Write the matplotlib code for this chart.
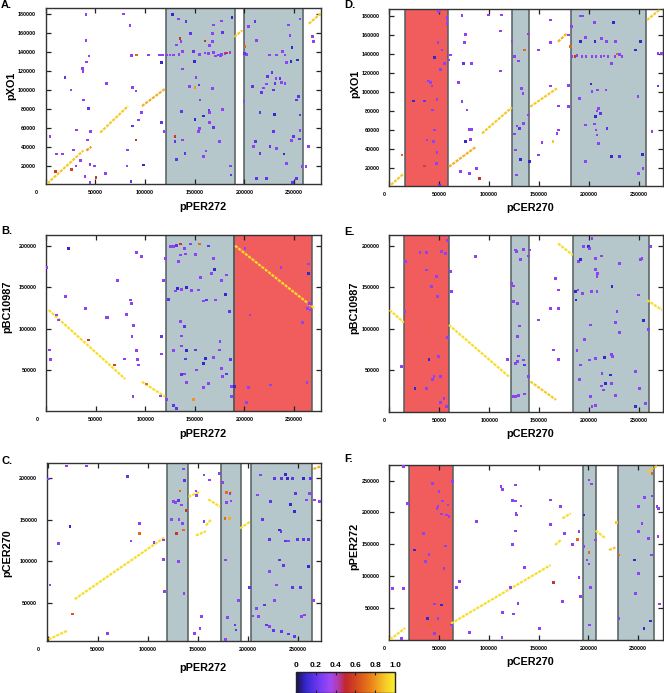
import numpy as np
import matplotlib
matplotlib.use('Agg')
import matplotlib.pyplot as plt
import matplotlib.transforms as mtransforms
from matplotlib.colors import LinearSegmentedColormap, Normalize
from matplotlib.cm import ScalarMappable

plt.rcParams['font.family'] = ['Liberation Sans', 'DejaVu Sans']
plt.rcParams['font.weight'] = 'bold'

# palette like the gnuplot one in the figure (navy -> violet -> red -> yellow)
cmap = LinearSegmentedColormap.from_list('dotpal', [
    (0.00, '#1a1248'), (0.10, '#3628d0'), (0.25, '#7a3cf6'), (0.35, '#a248f0'),
    (0.43, '#b23aa8'), (0.50, '#c2262c'), (0.60, '#d24420'), (0.75, '#ea7e18'),
    (0.90, '#f6c828'), (1.00, '#faf02a')])
norm = Normalize(0, 1)

GREY = '#b6c7cc'
RED = '#f15c5c'
EDGE = '#525c5e'

# ---------------- data ----------------
# shaded regions: (start, end, kind)
a_spans = [(121000, 190700, 'g'), (199200, 259000, 'g')]
b_spans = [(121000, 190000, 'g'), (190000, 268400, 'r')]
c_spans = [(118800, 140400, 'g'), (173000, 192700, 'g'), (203000, 264200, 'g')]
d_spans = [(16300, 58700, 'r'), (123300, 140000, 'g'), (181700, 257300, 'g')]
e_spans = [(14700, 59700, 'r'), (122000, 140300, 'g'), (184300, 260000, 'g')]
f_spans = [(19700, 64300, 'r'), (194700, 207300, 'g'), (229700, 266300, 'g')]

# high identity diagonal runs: (x0, y0, x1, y1, identity)
a_segs = [(2000, 1400, 38000, 36000, .9), (41000, 36000, 46000, 40000, .8),
          (55000, 55000, 83000, 83000, .9), (97000, 83000, 120000, 101000, .85),
          (190000, 156000, 198000, 163000, .9), (265000, 170000, 277000, 181000, .9)]
b_segs = [(2700, 122400, 79900, 39100, .95), (96600, 35900, 120100, 17800, .95),
          (190600, 200000, 271000, 124000, .95)]
c_segs = [(1000, 7000, 19000, 17000, .95), (27000, 55000, 117000, 129000, .95),
          (140500, 177300, 152100, 183300, .95), (148000, 131000, 158000, 136000, .95),
          (158000, 143000, 163000, 150000, .95), (160400, 174100, 172100, 165400, .95),
          (192100, 139500, 202100, 147500, .95), (265300, 210400, 272700, 213600, .85)]
d_segs = [(2000, 2000, 15000, 14000, .9), (60000, 21000, 87000, 42000, .85),
          (93000, 56100, 123000, 83500, .9), (141300, 84200, 168000, 103500, .9),
          (169000, 152600, 178000, 161400, .85), (258000, 175400, 271300, 186700, .9)]
e_segs = [(300, 122600, 14700, 107400, .95), (59700, 104600, 119700, 42400, .95),
          (141300, 36400, 167000, 14300, .9), (169000, 202800, 183700, 188800, .95),
          (258000, 134600, 273000, 122600, .95)]
f_segs = [(1000, 0, 16000, 18000, .95), (62000, 25000, 162000, 117000, .95),
          (166700, 148700, 172300, 156600, .95), (174000, 190700, 182300, 198600, .95),
          (207300, 171300, 217300, 159200, .95), (220700, 140800, 227300, 145000, .9),
          (259000, 264200, 269000, 273100, .9)]

# scattered hits: (x, y, identity)
a_pts = [(4400, 50600, .3), (40600, 179500, .3), (78200, 180200, .3), (84900, 167900, .3),
         (40600, 152000, .3), (43600, 135800, .3), (41300, 129500, .3), (37200, 122800, .3),
         (37600, 119300, .3), (19500, 113000, .2), (61400, 107000, .3), (25500, 100000, .3),
         (87600, 102800, .3), (91000, 98900, .3), (91700, 136900, .7), (103400, 136900, .3),
         (86600, 136600, .3), (116800, 129200, .1), (37900, 89400, .3), (43300, 80200, .2),
         (87200, 61900, .2), (93300, 68200, .3), (96600, 76000, .3), (116800, 65400, .2),
         (119100, 55900, .3), (31200, 57700, .3), (45300, 55900, .3), (41900, 47100, .3),
         (90900, 47100, .55), (27900, 36500, .3), (82200, 36500, .3), (44600, 21400, .3),
         (49000, 19600, .3), (81900, 19600, .3), (98300, 20700, .1), (11100, 32300, .3),
         (17100, 32300, .3), (30500, 19600, .3), (39600, 8400, .3), (50700, 7700, .55),
         (60100, 11500, .3), (85900, 3100, .2), (44600, 2000, .3), (35200, 25600, .3),
         (9700, 13700, .55), (26200, 16100, .6),
         (127900, 179900, .1), (133600, 175000, .3), (141300, 172100, .2), (131900, 147500, .3),
         (136200, 151000, .3), (135200, 154500, .55), (137900, 140400, .3), (114400, 136900, .3),
         (117800, 136900, .3), (122000, 136900, .3), (125300, 136900, .3), (128700, 136900, .3),
         (134200, 137500, .3), (155000, 137500, .3), (160400, 139000, .3), (163800, 138300, .3),
         (169000, 139500, .3), (173800, 136900, .3), (177200, 137500, .3), (180600, 138300, .3),
         (182300, 139000, .55), (185600, 140000, .3), (171000, 136000, .3), (176000, 136200, .3),
         (146000, 159800, .2), (148700, 140400, .2), (160400, 151700, .55), (164800, 146800, .3),
         (177200, 172800, .3), (168900, 168600, .3), (167600, 159800, .3), (177700, 160800, .2),
         (187600, 176700, .1), (168200, 151000, .3), (151300, 113000, .3), (150400, 102800, .8),
         (137900, 122100, .3), (144600, 103500, .3), (154400, 105200, .2), (149700, 129900, .1),
         (167600, 101700, .3), (136900, 77000, .2), (155400, 89400, .3), (158700, 72500, .1),
         (164400, 78800, .2), (164800, 65400, .3), (168900, 60500, .2), (177700, 79600, .3),
         (164800, 76000, .3), (155000, 59400, .3), (153600, 55900, .3), (150400, 68900, .1),
         (130200, 50600, .55), (130200, 45400, .2), (137900, 47100, .3), (140300, 33000, .2),
         (131900, 26700, .2), (158700, 29500, .3), (161400, 35500, .3), (175200, 45400, .3),
         (185900, 19600, .3), (186600, 10100, .2),
         (204000, 166800, .3), (202300, 137600, .3), (200000, 138700, .2), (212400, 152000, .3),
         (210700, 172100, .2), (200700, 146000, .7), (208100, 104000, .2), (199700, 88100, .3),
         (219100, 102200, .3), (217400, 97000, .2), (223500, 114200, .2), (227800, 118400, .2),
         (225200, 136900, .3), (232600, 136900, .3), (238600, 140400, .3), (241000, 136900, .3),
         (242600, 129200, .3), (247000, 129900, .1), (253700, 131700, .1), (248000, 144900, .1),
         (245900, 157300, .3), (244600, 168600, .3), (256000, 175000, .3), (231900, 112300, .3),
         (235900, 112300, .2), (237600, 107700, .3), (230900, 107000, .2), (241000, 107000, .3),
         (222500, 106300, .3), (229300, 100000, .2), (254400, 93000, .2), (252800, 89400, .2),
         (215800, 76300, .2), (230200, 74200, .1), (256000, 73500, .2), (256000, 57000, .3),
         (211400, 45400, .2), (209100, 40100, .3), (225800, 40100, .2), (232600, 38300, .3),
         (240000, 32300, .1), (247700, 46400, .3), (255400, 48200, .2), (249300, 50600, .2),
         (229300, 55900, .2), (215800, 33000, .2), (242600, 22500, .3), (212400, 6600, .2),
         (222500, 6600, .2), (252800, 6600, .2), (248600, 2400, .2), (258000, 18900, .3),
         (262000, 18900, .3), (264400, 40100, .3), (269500, 151000, .3), (268800, 156300, .3)]

b_pts = [(1000, 173400, .3), (22800, 196800, .1), (19500, 138500, .3), (39600, 124400, .3),
         (3700, 74100, .3), (4400, 62900, .3), (10400, 116300, .3), (12800, 110300, .3),
         (60700, 113500, .3), (62500, 113000, .3), (71800, 157800, .3), (84900, 134400, .3),
         (85900, 130400, .3), (81500, 117100, .3), (88300, 103500, .3), (86600, 90200, .3),
         (78900, 63300, .3), (91000, 73300, .3), (92600, 62900, .3), (93300, 56000, .3),
         (91000, 191500, .3), (96600, 186700, .3), (101000, 33100, .7), (116800, 90200, .2),
         (116800, 69300, .3), (118500, 157800, .3), (120100, 184700, .3), (87600, 17800, .3),
         (115100, 18600, .3), (43000, 86200, .55), (69000, 56000, .6),
         (125200, 198800, .3), (128500, 198800, .3), (131200, 200600, .2), (135200, 202000, .55),
         (139300, 196800, .3), (145300, 202000, .3), (154700, 202000, .7), (163800, 199600, .2),
         (123500, 135200, .2), (130200, 145300, .3), (132500, 148500, .1), (136900, 147300, .3),
         (142000, 149700, .1), (133600, 180700, .3), (135200, 188700, .3), (140300, 189900, .3),
         (150400, 189500, .3), (155400, 161400, .3), (153700, 146500, .3), (147000, 145700, .3),
         (158700, 133200, .3), (162100, 134400, .2), (170500, 134400, .3), (167100, 166600, .3),
         (169600, 171400, .1), (168900, 184700, .3), (177200, 157800, .3), (181600, 164600, .3),
         (180600, 141300, .1), (184900, 120400, .2), (185600, 62900, .2), (187300, 17800, .3),
         (186600, 29900, .3), (128500, 73300, .3), (141300, 73300, .1), (150400, 74100, .2),
         (135200, 108300, .3), (139300, 102300, .2), (136200, 91000, .3), (136900, 78900, .3),
         (140300, 63300, .2), (158700, 58000, .1), (160400, 64100, .1), (168900, 64900, .3),
         (174900, 74100, .3), (175500, 84200, .3), (177200, 52000, .3), (182300, 45200, .2),
         (178200, 42000, .3), (163800, 33900, .3), (158700, 28700, .3), (152000, 50000, .3),
         (136900, 44800, .2), (139600, 45200, .3), (141300, 34700, .3), (128500, 7000, .2),
         (131900, 3800, .2), (148700, 14600, .8), (121800, 14600, .3),
         (200700, 196800, .3), (236900, 173800, .3), (264400, 177900, .3), (264400, 166600, .1),
         (265400, 130400, .3), (263400, 124400, .3), (266700, 122400, .3), (205700, 116300, .3),
         (258400, 107100, .3), (204000, 29100, .3), (226500, 31900, .3), (263100, 34700, .3),
         (202300, 11000, .3), (189900, 29900, .1)]

c_pts = [(19000, 214000, .3), (39000, 214000, .3), (79900, 201200, .2), (22300, 141500, .1),
         (10700, 121600, .3), (2300, 71900, .3), (500, 198400, .3), (91600, 145500, .3),
         (83200, 124400, .3), (106200, 122800, .3), (115500, 125600, .3), (115500, 102500, .3),
         (116500, 63900, .3), (59900, 14200, .3), (91600, 133600, .7), (25000, 37300, .65),
         (148100, 184100, .3), (148800, 178500, .3), (156100, 203200, .3), (161400, 197300, .3),
         (171400, 205200, .3), (156100, 147500, .3), (152100, 20200, .3), (153800, 34100, .3),
         (146400, 14200, .3), (132200, 184100, .7), (135500, 137500, .7), (128800, 133600, .55),
         (138200, 160600, .55), (178800, 182100, .7), (183000, 182100, .85), (177100, 151500, .7),
         (181400, 151500, .85),
         (125500, 171400, .3), (128000, 170500, .3), (130500, 172600, .2), (133800, 167400, .3),
         (135500, 210400, .3), (136500, 196800, .2), (123800, 150300, .3), (131200, 150300, .3),
         (134800, 145500, .3), (130500, 99700, .3), (136200, 61900, .3),
         (174800, 194400, .3), (182100, 181300, .3), (178800, 170200, .3), (183100, 172200, .3),
         (177800, 101700, .3), (179500, 33300, .3), (187100, 24100, .2), (188100, 18200, .2),
         (190400, 53200, .3), (177800, 7000, .3),
         (212200, 203200, .3), (226700, 198800, .2), (233400, 198800, .2), (239100, 198800, .1),
         (244100, 198800, .2), (255800, 198800, .1), (262400, 198800, .2), (237400, 203600, .1),
         (247400, 181300, .2), (209500, 179300, .3), (222100, 171400, .2), (242800, 168200, .1),
         (246700, 159400, .1), (258400, 173400, .3), (261700, 181300, .3), (214500, 150300, .2),
         (221100, 126400, .2), (231100, 137500, .1), (233000, 135500, .2), (237400, 124400, .2),
         (240800, 124400, .3), (249100, 126400, .2), (255800, 126400, .2), (260800, 126400, .2),
         (260100, 93800, .1), (221400, 87800, .3), (231100, 101700, .2), (235800, 95000, .2),
         (244800, 68700, .2), (252100, 68700, .2), (201800, 68700, .2), (228400, 71900, .3),
         (226700, 53200, .3), (216800, 48000, .2), (208500, 44000, .3), (205100, 34900, .3),
         (210200, 34100, .3), (218500, 24100, .2), (221800, 22100, .3), (225100, 17300, .2),
         (233500, 16100, .2), (246700, 10200, .2), (240100, 13400, .2), (253500, 34100, .3),
         (256800, 36100, .3), (265200, 53200, .3), (271400, 171400, .3), (266400, 173400, .3)]

d_pts = [(13000, 33300, .7), (49700, 184200, .3), (58000, 177200, .3), (58000, 171900, .3),
         (45700, 135800, .1), (49000, 151600, .3), (53000, 143900, .3), (51300, 123500, .3),
         (55700, 129800, .3), (39700, 111200, .3), (41300, 109500, .3), (43000, 106000, .3),
         (24700, 90200, .1), (35700, 90200, .2), (48000, 91900, .3), (43700, 80700, .3),
         (45300, 59600, .3), (38000, 49100, .3), (44700, 47400, .3), (48000, 35800, .3),
         (47300, 24600, .3), (35700, 21800, .6), (50300, 1800, .2), (58000, 178200, .3),
         (61300, 138600, .3), (59700, 133300, .3), (73000, 180000, .3), (76300, 160400, .3),
         (75700, 151600, .3), (74700, 129800, .2), (82300, 129800, .3), (69700, 109500, .3),
         (73000, 89500, .3), (78000, 80700, .3), (80300, 60400, .3), (82300, 60400, .3),
         (81300, 49800, .3), (76300, 47400, .1), (71300, 15800, .3), (80300, 14000, .3),
         (87300, 19300, .3), (99700, 180700, .3), (112300, 180700, .3), (111300, 163900, .3),
         (111300, 121800, .3), (90300, 8800, .55), (123000, 152600, .3),
         (125300, 136800, .3), (129700, 132300, .3), (132300, 103500, .3), (134000, 98200, .3),
         (125700, 55400, .3), (130700, 61400, .2), (134700, 66700, .3), (128000, 63900, .3),
         (126300, 38600, .3), (127300, 12300, .3), (139700, 75400, .3), (131300, 28800, .1),
         (140700, 26300, .1), (135300, 143900, .7),
         (139700, 160700, .3), (149700, 143900, .3), (161300, 151600, .3), (161300, 175400, .3),
         (161300, 106000, .3), (169700, 84900, .3), (169700, 59600, .3), (168000, 56100, .3),
         (153000, 46300, .3), (149700, 33300, .3), (179700, 106700, .3), (179700, 84200, .3),
         (179700, 159600, .3), (164000, 47400, .9), (181300, 147400, .7),
         (183000, 136800, .3), (186000, 136800, .55), (188000, 137800, .3), (193000, 136800, .3),
         (197000, 136800, .3), (203000, 136800, .3), (207000, 136800, .3), (212000, 136800, .3),
         (215000, 137500, .3), (219000, 136800, .3), (226000, 136800, .3), (228000, 139600, .7),
         (233000, 136800, .3),
         (182300, 168400, .3), (191300, 179600, .3), (193300, 179600, .3), (205700, 172600, .3),
         (196300, 156800, .3), (191300, 152600, .1), (206000, 152600, .1), (212700, 156100, .3),
         (217700, 152600, .3), (224700, 172600, .1), (226300, 152600, .3), (230300, 139300, .3),
         (222300, 129800, .3), (251300, 152600, .1), (246300, 143900, .1), (190700, 93000, .3),
         (202000, 108100, .1), (203000, 100000, .3), (208700, 101800, .3), (217000, 101800, .3),
         (209700, 82500, .3), (208000, 79600, .3), (211300, 77200, .2), (206300, 73700, .1),
         (196300, 64900, .3), (205300, 66000, .3), (207000, 59600, .3), (208000, 54400, .3),
         (218000, 61400, .2), (222300, 31600, .1), (230300, 31600, .2), (196300, 26300, .3),
         (209700, 45600, .3), (249000, 94700, .3), (253700, 34000, .1), (249700, 14000, .3),
         (254000, 19300, .3), (269000, 106000, .2), (263000, 57900, .3), (269000, 140400, .3),
         (272500, 140400, .3)]

e_pts = [(39700, 104600, .7), (12300, 54400, .3), (15700, 120600, .3), (16300, 180800, .3),
         (30700, 191600, .3), (37300, 191600, .3), (37000, 170700, .3), (42300, 150700, .3),
         (47000, 162700, .3), (48000, 138600, .3), (52300, 192800, .3), (56300, 190800, .3),
         (39700, 63200, .1), (49000, 66400, .3), (44700, 42400, .3), (43000, 38400, .3),
         (51300, 42400, .3), (54700, 16300, .3), (51300, 11100, .3), (57000, 6300, .3),
         (25700, 28300, .1), (37300, 28300, .3), (58000, 89700, .3), (58000, 206000, .3),
         (61300, 168700, .3), (62000, 144700, .3), (86300, 186800, .3), (118700, 63200, .3),
         (122300, 154700, .3), (124700, 151500, .3), (126300, 194800, .3), (127300, 192800, .3),
         (134700, 195600, .3), (131300, 183600, .3), (139000, 187600, .3), (124700, 132600, .3),
         (128000, 130600, .3), (126300, 58400, .3), (128700, 60400, .3), (129700, 67200, .3),
         (134700, 62400, .3), (135700, 56400, .2), (130700, 103400, .3), (128700, 90500, .3),
         (124000, 18500, .3), (126300, 18500, .3), (129700, 19300, .3), (135300, 21300, .3),
         (140300, 194800, .3), (139700, 42400, .3),
         (149700, 110600, .3), (161300, 124600, .3), (166300, 160700, .3), (169000, 146700, .3),
         (169700, 124600, .3), (164300, 74500, .3), (169300, 63200, .3),
         (194700, 199600, .3), (199700, 199600, .1), (200300, 196800, .3), (203000, 208800, .3),
         (189700, 180800, .3), (191300, 183600, .1), (206300, 184400, .3), (212300, 187600, .3),
         (206300, 171500, .3), (208000, 162700, .3), (208700, 166700, .3), (186300, 144700, .1),
         (189000, 146700, .3), (187000, 134600, .1), (193700, 142700, .3), (202300, 144700, .3),
         (208000, 144700, .3), (223000, 150700, .1), (230300, 178800, .3), (251300, 183600, .3),
         (253000, 184800, .3), (249700, 140700, .3), (228000, 120600, .3), (226300, 107400, .3),
         (230300, 95300, .3), (201300, 104600, .3), (195300, 87300, .3), (188000, 73700, .3),
         (206300, 64400, .3), (215700, 65200, .1), (222300, 69300, .3), (223700, 66400, .3),
         (213000, 46400, .3), (221300, 44400, .1), (222300, 34400, .3), (216300, 34400, .1),
         (212300, 31100, .3), (214700, 26300, .3), (200300, 62400, .3), (191300, 56400, .3),
         (190300, 38400, .3), (201300, 18300, .3), (203000, 6300, .3), (206300, 7500, .3),
         (226300, 19500, .3), (246300, 48400, .3), (250300, 28300, .3), (254700, 109800, .1),
         (256300, 10300, .3), (246300, 6300, .1), (259700, 99300, .3), (261300, 198800, .3)]

f_pts = [(40700, 22700, .7), (165000, 89400, .55), (189000, 157600, .7), (200700, 136600, .7),
         (230700, 133000, .7), (228300, 183900, .9), (264000, 261500, .7),
         (14000, 272000, .3), (18000, 214300, .3), (25700, 140800, .1), (34000, 167100, .3),
         (36700, 122400, .3), (40000, 134000, .3), (43300, 245800, .3), (50000, 232700, .3),
         (49000, 209100, .3), (48000, 206400, .3), (53300, 218000, .3), (52300, 197500, .3),
         (57300, 195900, .3), (59000, 211700, .3), (60000, 193300, .3), (56700, 147100, .3),
         (55000, 111900, .3), (45700, 55800, .3), (52300, 54200, .1), (49000, 33200, .3),
         (38300, 33200, .1), (45700, 9600, .3), (63300, 248400, .3), (62300, 22700, .3),
         (3000, 80000, .3), (14000, 80000, .3), (12000, 2000, .3),
         (67300, 81500, .3), (70700, 90900, .3), (80700, 10600, .3), (87300, 185400, .3),
         (112300, 240600, .3), (114000, 236400, .3), (126700, 243200, .3), (124000, 218500, .3),
         (126700, 218000, .3), (127300, 198600, .3), (128000, 195900, .3), (126700, 170700, .3),
         (124000, 149700, .3), (132300, 210100, .3), (135700, 113000, .3), (129300, 56800, .3),
         (125000, 40000, .3), (114000, 42100, .3), (150700, 17500, .3), (113300, 2600, .3),
         (162300, 219600, .3), (162300, 181200, .3), (172300, 209100, .3), (174000, 59400, .3),
         (175700, 166500, .3), (184000, 149700, .3), (190700, 169700, .3), (192300, 67300, .3),
         (190700, 97800, .3), (122000, 82000, .3),
         (195700, 195900, .1), (200700, 251000, .3), (203300, 244700, .3), (195700, 146100, .3),
         (198700, 125100, .3), (200700, 118800, .3), (207300, 156600, .3), (202300, 81500, .3),
         (201300, 22700, .3),
         (230700, 33200, .3), (250700, 209100, .3), (250700, 169700, .3), (256700, 223800, .3),
         (264000, 226000, .3), (254000, 182800, .3), (260700, 159200, .3), (263300, 132900, .3),
         (246700, 125100, .1), (250000, 104100, .3), (247700, 72600, .3), (262300, 29000, .1),
         (256000, 17500, .1), (269000, 209100, .3), (270700, 206400, .3), (270000, 161800, .3),
         (271700, 55800, .3)]

xlab = ['pPER272', 'pCER270']
ylabs = ['pXO1', 'pBC10987', 'pCER270', 'pXO1', 'pBC10987', 'pPER272']
letters = ['A.', 'B.', 'C.', 'D.', 'E.', 'F.']
xticks = [0, 50000, 100000, 150000, 200000, 250000]
yticks_xo1 = [20000, 40000, 60000, 80000, 100000, 120000, 140000, 160000, 180000]
yticks_bc = [50000, 100000, 150000, 200000]
yticks_f = [50000, 100000, 150000, 200000, 250000]

# ---------------- figure ----------------
fig = plt.figure(figsize=(6.64, 6.93), dpi=100)
W, H = 664.0, 693.0

# pixel boxes: left, right, top, bottom
boxes = [(45.6, 321, 8.3, 184), (46, 320.7, 235, 411), (46.7, 320.7, 462.7, 641),
         (389, 663.5, 9.3, 185.7), (389.3, 663, 235, 411.7), (389.3, 663, 465, 640)]
xlims = [(0, 277200), (0, 276900), (-1000, 272600), (0, 274500), (0, 274000), (0, 275000)]
ylims = [(660, 186300), (540, 212900), (5000, 217900), (1050, 186700), (60, 213000), (-900, 274700)]
yticks_all = [yticks_xo1, yticks_bc, yticks_bc, yticks_xo1, yticks_bc, yticks_f]
spans_all = [a_spans, b_spans, c_spans, d_spans, e_spans, f_spans]
segs_all = [a_segs, b_segs, c_segs, d_segs, e_segs, f_segs]
pts_all = [a_pts, b_pts, c_pts, d_pts, e_pts, f_pts]
xlab_y = [-0.129, -0.131, -0.153, -0.128, -0.127, -0.124]
ylab_pos = [(-0.123, 0.558), (-0.141, 0.59), (-0.143, 0.494),
            (-0.123, 0.58), (-0.128, 0.587), (-0.128, 0.537)]
letter_y = [5.5, 231, 461, 5.5, 232, 459]

for i in range(6):
    l, r, tp, bt = boxes[i]
    ax = fig.add_axes([l / W, 1 - bt / H, (r - l) / W, (bt - tp) / H])
    col = i // 3

    for s0, s1, kind in spans_all[i]:
        ax.axvspan(s0, s1, facecolor=GREY if kind == 'g' else RED,
                   edgecolor='none', zorder=0)
        ax.axvline(s0, color=EDGE, lw=1.1, zorder=1)
        ax.axvline(s1, color=EDGE, lw=1.1, zorder=1)

    for x0, y0, x1, y1, v in segs_all[i]:
        ax.plot([x0, x1], [y0, y1], color=cmap(norm(v)), lw=1.6,
                ls=(0, (1.4, 0.5)), solid_capstyle='butt', zorder=3)

    p = np.array(pts_all[i])
    ax.scatter(p[:, 0], p[:, 1], c=p[:, 2], cmap=cmap, norm=norm,
               s=4, marker='s', linewidths=0, zorder=4)

    ax.set_xlim(*xlims[i])
    ax.set_ylim(*ylims[i])
    ax.set_xticks(xticks)
    ax.set_xticklabels([str(v) for v in xticks])
    ax.set_yticks(yticks_all[i])
    ax.set_yticklabels([str(v) for v in yticks_all[i]])
    ax.tick_params(direction='in', top=True, right=True, length=3.5, width=0.9,
                   labelsize=3.9, color='#222222')
    ax.tick_params(axis='x', pad=4.2)
    ax.tick_params(axis='y', pad=6.8)
    for lab in ax.get_xticklabels() + ax.get_yticklabels():
        lab.set_fontweight('bold')
    # gnuplot puts the "0" label a little to the left
    shift = -0.09 if col == 0 else -0.05
    lab0 = ax.get_xticklabels()[0]
    lab0.set_transform(lab0.get_transform() +
                       mtransforms.ScaledTranslation(shift, 0, fig.dpi_scale_trans))
    for sp in ax.spines.values():
        sp.set_color('#333333')
        sp.set_linewidth(1.0)

    ax.set_xlabel(xlab[col], fontsize=7.8, fontweight='bold')
    ax.xaxis.set_label_coords(0.571 if col == 0 else 0.514, xlab_y[i])
    ax.xaxis.label.set_va('center')
    ax.set_ylabel(ylabs[i], fontsize=7.8, fontweight='bold')
    ax.yaxis.set_label_coords(*ylab_pos[i])
    ax.yaxis.label.set_va('center')

    fig.text((1 if col == 0 else 344) / W, 1 - letter_y[i] / H, letters[i],
             fontsize=8, fontweight='bold', ha='left', va='center')

# colour bar
cax = fig.add_axes([296 / W, 1 - 692.5 / H, 99 / W, 20.5 / H])
cb = fig.colorbar(ScalarMappable(norm=norm, cmap=cmap), cax=cax, orientation='horizontal')
cb.set_ticks([0, 0.2, 0.4, 0.6, 0.8, 1.0])
cb.set_ticklabels(['0', '0.2', '0.4', '0.6', '0.8', '1.0'])
cax.tick_params(direction='in', top=True, bottom=True, labeltop=True, labelbottom=False,
                length=2.5, width=0.8, labelsize=6, pad=2.5, color='#222222')
for lab in cax.get_xticklabels():
    lab.set_fontweight('bold')
cb.outline.set_linewidth(1.0)
cb.outline.set_edgecolor('#222222')

fig.savefig('out.png', dpi=100)
